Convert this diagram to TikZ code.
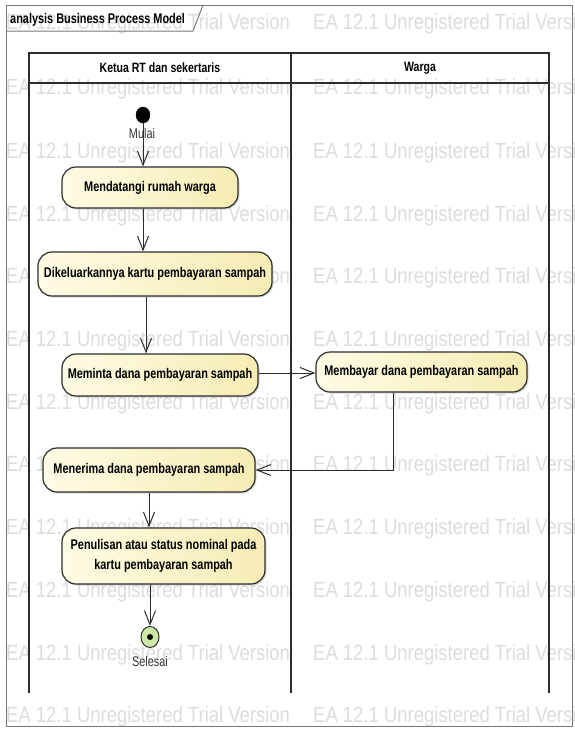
\documentclass[tikz,border=0pt]{standalone}
\usepackage{fontspec}
\setmainfont{Liberation Sans}[FakeStretch=0.78]
\newfontfamily\wmfont{Liberation Sans}[FakeStretch=0.84]
\usetikzlibrary{arrows.meta,shadows,shapes.geometric}

\definecolor{actfill}{RGB}{246,236,180}
\definecolor{actfillleft}{RGB}{254,251,228}
\definecolor{finalfill}{RGB}{208,232,166}
\definecolor{wmgray}{RGB}{220,220,220}
\definecolor{linedark}{RGB}{45,45,45}
\definecolor{framegray}{RGB}{120,120,120}

\tikzset{
  wm/.style={font=\wmfont\fontsize{22}{24}\selectfont, text=wmgray, inner sep=0pt, anchor=west},
  framebox/.style={draw=framegray, line width=1pt},
  lanebox/.style={draw=linedark, line width=1.3pt},
  lanehead/.style={font=\bfseries\fontsize{13.5}{15}\selectfont, inner sep=0pt},
  activity/.style={draw=linedark, line width=1.2pt, rounded corners=14pt,
    left color=actfillleft, right color=actfill, inner sep=0pt,
    font=\bfseries\fontsize{14}{20}\selectfont, align=center,
    drop shadow={shadow xshift=1.5pt, shadow yshift=-1.5pt, opacity=0.3}},
  flow/.style={draw=linedark, line width=1pt,
    -{Straight Barb[length=14pt, width=11pt, line width=1pt]}},
  caption/.style={font=\fontsize{14}{15}\selectfont, text=black!80, inner sep=0pt},
}

\begin{document}
\begin{tikzpicture}[x=1pt, y=-1pt]
\useasboundingbox (0,0) rectangle (574,731);

% trial-version watermark, behind everything
\begin{scope}
\clip (0,0) rectangle (574,731);
\foreach \y [count=\j] in {24,89,153,216,278,341,404,466,529,592,655,717}
  \foreach \x [count=\i] in {6,313}
    \node[wm] (wm-\j-\i) at (\x,\y) {EA 12.1 Unregistered Trial Version};
\end{scope}

% diagram frame with its name tab
\draw[framebox] (6,5) rectangle (572,726);
\draw[framebox] (6,31) -- (193,31) -- (203,5);
\node[font=\bfseries\fontsize{14}{15}\selectfont, inner sep=0pt, anchor=west]
  (title) at (10,20) {analysis Business Process Model};

% swimlanes
\draw[lanebox] (29,693) -- (29,53) -- (549,53) -- (549,693);
\draw[lanebox] (29,83) -- (549,83);
\draw[lanebox] (291,53) -- (291,693);
\node[lanehead] (lane1) at (160,68) {Ketua RT dan sekertaris};
\node[lanehead] (lane2) at (420,68) {Warga};

% start and end
\node[draw=black, fill=black, ellipse, minimum width=14pt, minimum height=16pt, inner sep=0pt] (start) at (143,115) {};
\node[caption] (startlbl) at (142,133) {Mulai};

\node[draw=linedark, fill=finalfill, ellipse, line width=1pt, minimum width=18pt, minimum height=21pt, inner sep=0pt] (stop) at (150,637) {};
\node[fill=black, circle, minimum size=6pt, inner sep=0pt] (stopdot) at (stop.center) {};
\node[caption] (stoplbl) at (150,661) {Selesai};

% activities
\node[activity, minimum width=176pt, minimum height=41pt] (mend) at (150,187.5) {Mendatangi rumah warga};
\node[activity, minimum width=234pt, minimum height=44pt] (dikel) at (155,274) {Dikeluarkannya kartu pembayaran sampah};
\node[activity, minimum width=196pt, minimum height=42pt] (minta) at (160,375) {Meminta dana pembayaran sampah};
\node[activity, minimum width=211pt, minimum height=40pt] (bayar) at (421.5,372) {Membayar dana pembayaran sampah};
\node[activity, minimum width=212pt, minimum height=44pt] (terima) at (149,470) {Menerima dana pembayaran sampah};
\node[activity, minimum width=203pt, minimum height=56pt] (tulis) at (163.5,556) {Penulisan atau status nominal pada\\kartu pembayaran sampah};

% control flows
\draw[flow] (start) -- (start |- mend.north);
\draw[flow] ([xshift=-7pt]mend.south) -- ([xshift=-7pt]mend.south |- dikel.north);
\draw[flow] ([xshift=-9pt]dikel.south) -- ([xshift=-9pt]dikel.south |- minta.north);
\draw[flow] ([yshift=2pt]minta.east) -- ([yshift=2pt]minta.east -| bayar.west);
\draw[flow] ([xshift=-28.5pt]bayar.south) |- (terima.east);
\draw[flow] (terima.south) -- (terima.south |- tulis.north);
\draw[flow] (tulis.south -| stop) -- (stop.north);
\end{tikzpicture}
\end{document}
